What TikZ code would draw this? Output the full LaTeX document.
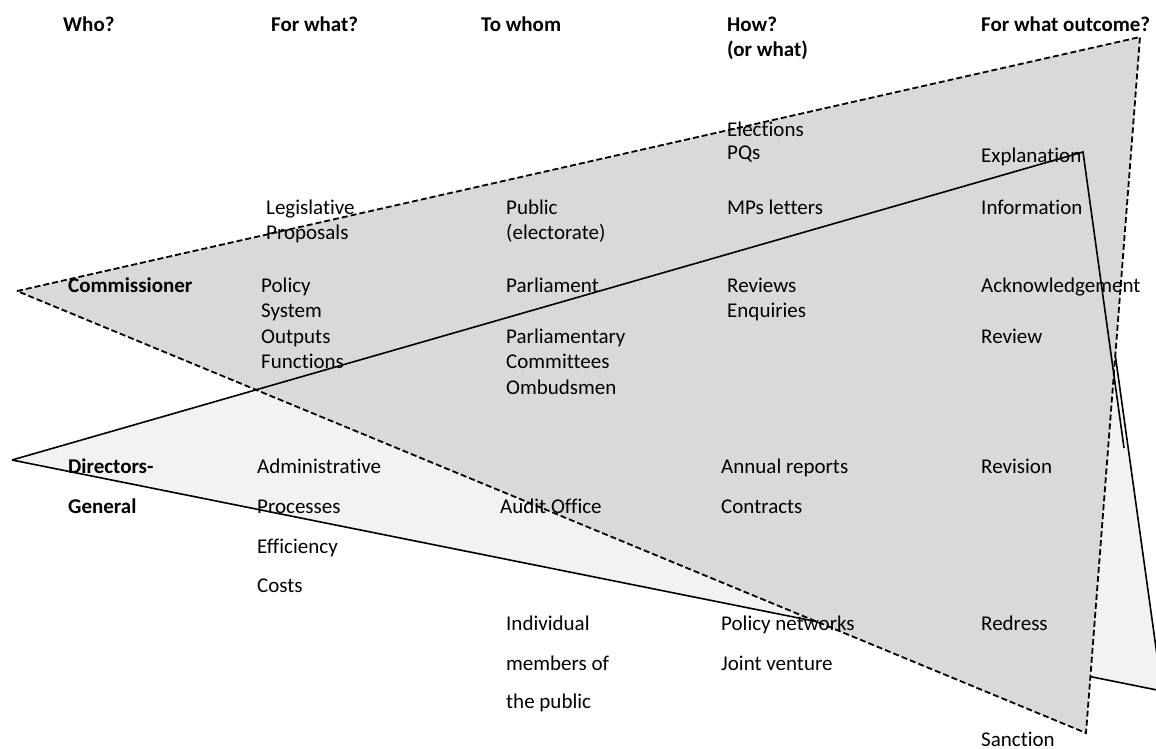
\documentclass[tikz,border=0pt]{standalone}
\usepackage{fontspec}
\setmainfont[Ligatures=NoCommon]{Carlito}
\begin{document}
\begin{tikzpicture}[x=1pt,y=-1pt,
  lbl/.style={anchor=base west,inner sep=0pt,font=\fontsize{21}{25}\selectfont},
  hdr/.style={lbl,font=\fontsize{21}{25}\selectfont\bfseries},
  edge/.style={draw=black,line width=1.6pt},
  dashedge/.style={draw=black,line width=1.8pt,dash pattern=on 6pt off 3pt}]
\useasboundingbox (0,0) rectangle (1156,749);

% corners of the two triangles
\coordinate (dgL) at (12,460);
\coordinate (dgT) at (1087,152);
\coordinate (dgR) at (1162,691);
\coordinate (cmL) at (17,291);
\coordinate (cmT) at (1140,37);
\coordinate (cmB) at (1086,733);
\coordinate (ovT) at (1083,152);
\coordinate (ovE) at (1124,448);

% lower, light triangle (Directors-General)
\fill[black!5] (dgL) -- (dgT) -- (dgR) -- cycle;
\draw[edge] (dgT) -- (dgR) -- (dgL);
% upper, darker triangle (Commissioner)
\path[fill=black!15,dashedge] (cmL) -- (cmT) -- (cmB) -- cycle;
% outline of the light triangle seen through the dark one
\draw[edge,line join=miter] (dgL) -- (ovT) -- (ovE);

% column headings
\node[hdr] (hWho) at (63,32) {Who?};
\node[hdr] (hWhat) at (271,32) {For what?};
\node[hdr] (hWhom) at (481,32) {To whom};
\node[hdr] (hHow) at (727,32) {How?};
\node[hdr] (hHow2) at (727,57) {(or what)};
\node[hdr] (hOut) at (981,32) {For what outcome?};

% who
\node[hdr] (wC) at (68,292) {Commissioner};
\node[hdr] (wD1) at (68,473) {Directors-};
\node[hdr] (wD2) at (68,513) {General};

% for what
\node[lbl] (f1) at (266,214) {Legislative};
\node[lbl] (f2) at (266,239) {Proposals};
\node[lbl] (f3) at (261,292) {Policy};
\node[lbl] (f4) at (261,317) {System};
\node[lbl] (f5) at (261,343) {Outputs};
\node[lbl] (f6) at (261,368) {Functions};
\node[lbl] (f7) at (257,473) {Administrative};
\node[lbl] (f8) at (257,513) {Processes};
\node[lbl] (f9) at (257,553) {Efficiency};
\node[lbl] (f10) at (257,592) {Costs};

% to whom
\node[lbl] (t1) at (506,214) {Public};
\node[lbl] (t2) at (506,239) {(electorate)};
\node[lbl] (t3) at (506,292) {Parliament};
\node[lbl] (t4) at (506,343) {Parliamentary};
\node[lbl] (t5) at (506,368) {Committees};
\node[lbl] (t6) at (506,394) {Ombudsmen};
\node[lbl] (t7) at (500,513) {Audit Office};
\node[lbl] (t8) at (506,630) {Individual};
\node[lbl] (t9) at (506,670) {members of};
\node[lbl] (t10) at (506,708) {the public};

% how
\node[lbl] (h1) at (727,136) {Elections};
\node[lbl] (h2) at (727,160) {PQs};
\node[lbl] (h3) at (727,214) {MPs letters};
\node[lbl] (h4) at (727,292) {Reviews};
\node[lbl] (h5) at (727,317) {Enquiries};
\node[lbl] (h6) at (721,473) {Annual reports};
\node[lbl] (h7) at (721,513) {Contracts};
\node[lbl] (h8) at (721,630) {Policy networks};
\node[lbl] (h9) at (721,670) {Joint venture};

% outcome
\node[lbl] (o1) at (981,162) {Explanation};
\node[lbl] (o2) at (981,214) {Information};
\node[lbl] (o3) at (981,292) {Acknowledgement};
\node[lbl] (o4) at (981,343) {Review};
\node[lbl] (o5) at (981,473) {Revision};
\node[lbl] (o6) at (981,630) {Redress};
\node[lbl] (o7) at (981,746) {Sanction};
\end{tikzpicture}
\end{document}
